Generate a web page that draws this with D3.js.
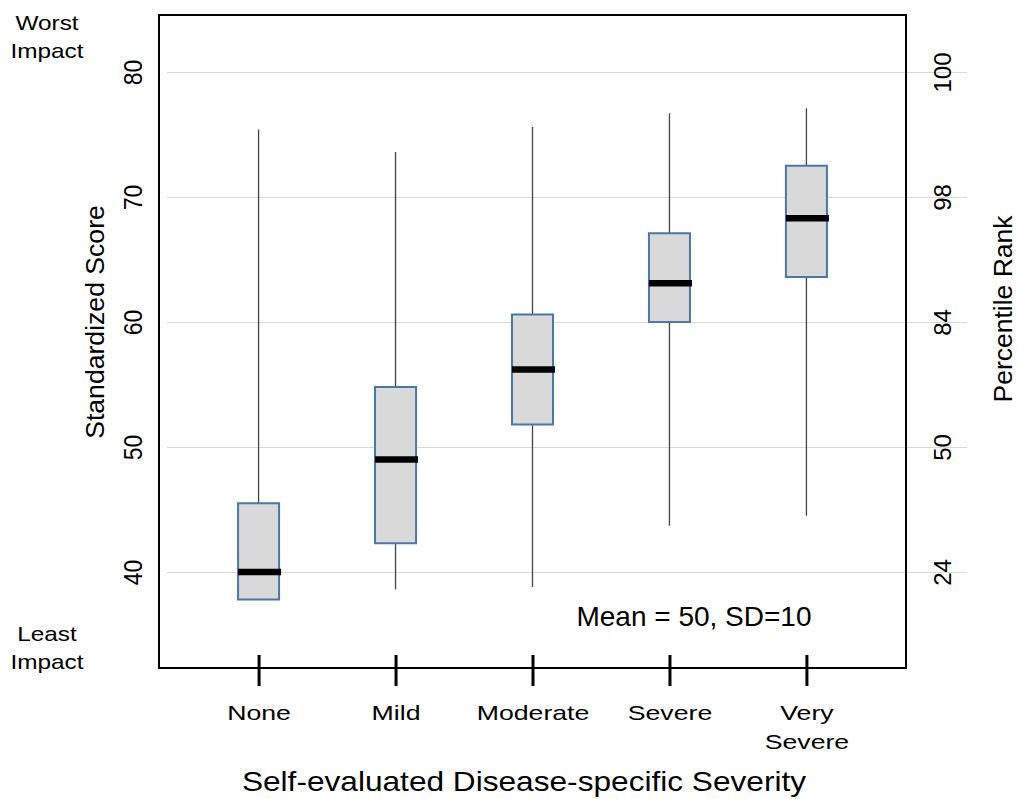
<!DOCTYPE html>
<html>
<head>
<meta charset="utf-8">
<script src="https://cdn.jsdelivr.net/npm/d3@7"></script>
<style>
  body { margin: 0; background: #fff; }
  svg { display: block; font-family: "Liberation Sans", Arial, sans-serif; }
</style>
</head>
<body>
<svg id="chart" width="1019" height="799"></svg>
<script>
// ---- data ----
const categories = ["None", "Mild", "Moderate", "Severe", "Very Severe"];
const categoryLabels = [["None"], ["Mild"], ["Moderate"], ["Severe"], ["Very", "Severe"]];
const whiskerHigh = [75.4, 73.6, 75.6, 76.7, 77.1];
const q3 = [45.5, 54.8, 60.6, 67.1, 72.5];
const median = [40.0, 49.0, 56.2, 63.1, 68.3];
const q1 = [37.8, 42.3, 51.8, 60.0, 63.6];
const whiskerLow = [37.8, 38.6, 38.8, 43.7, 44.5];
const scoreTicks = [40, 50, 60, 70, 80];
const percentileLabels = ["24", "50", "84", "98", "100"];

(function () {
// ---- layout ----
const svg = d3.select("#chart");
const pLeft = 159, pRight = 906, pTop = 15, pBottom = 668;
const FF = "Liberation Sans, Arial, sans-serif";

const y = d3.scaleLinear().domain([40, 80]).range([572, 72]);
const x = d3.scalePoint().domain(categories).range([pLeft, pRight]).padding(0.727);

// gridlines (extend beyond right frame)
const grid = svg.append("g").attr("transform", `translate(967,0)`)
  .call(d3.axisRight(y).tickValues(scoreTicks).tickSize(-(967 - 167)).tickFormat(""));
grid.select(".domain").remove();
grid.selectAll(".tick line").attr("stroke", "#d9d9d9").attr("stroke-width", 1);

// boxes
const boxW = 41;
const data = categories.map((c, i) => ({
  c, hi: whiskerHigh[i], q3: q3[i], med: median[i], q1: q1[i], lo: whiskerLow[i]
}));
const g = svg.append("g");
g.selectAll(".whisker").data(data).enter().append("line")
  .attr("x1", d => x(d.c)).attr("x2", d => x(d.c))
  .attr("y1", d => y(d.hi)).attr("y2", d => y(d.lo))
  .attr("stroke", "#444").attr("stroke-width", 1.3);
g.selectAll(".box").data(data).enter().append("rect")
  .attr("x", d => x(d.c) - boxW / 2).attr("width", boxW)
  .attr("y", d => y(d.q3)).attr("height", d => y(d.q1) - y(d.q3))
  .attr("fill", "#d9d9d9").attr("stroke", "#4a77a7").attr("stroke-width", 2);
g.selectAll(".med").data(data).enter().append("line")
  .attr("x1", d => x(d.c) - boxW / 2).attr("x2", d => x(d.c) + boxW / 2 + 2)
  .attr("y1", d => y(d.med)).attr("y2", d => y(d.med))
  .attr("stroke", "#000").attr("stroke-width", 6.5);

// frame
svg.append("rect").attr("x", pLeft).attr("y", pTop)
  .attr("width", pRight - pLeft).attr("height", pBottom - pTop)
  .attr("fill", "none").attr("stroke", "#000").attr("stroke-width", 2);

// left axis labels
const la = svg.append("g").attr("transform", `translate(${pLeft},0)`)
  .call(d3.axisLeft(y).tickValues(scoreTicks).tickSize(0));
la.select(".domain").remove();
la.selectAll(".tick text")
  .attr("x", null).attr("dy", null).attr("text-anchor", "middle")
  .attr("transform", "translate(-17,0) scale(1.15,1) rotate(-90)")
  .attr("font-size", 23).attr("fill", "#000")
  .style("font-family", FF);

// right axis labels
const ra = svg.append("g").attr("transform", `translate(${pRight},0)`)
  .call(d3.axisRight(y).tickValues(scoreTicks).tickSize(0)
    .tickFormat((d, i) => percentileLabels[i]));
ra.select(".domain").remove();
ra.selectAll(".tick text")
  .attr("x", null).attr("dy", null).attr("text-anchor", "middle")
  .attr("transform", "translate(45,0) rotate(-90)")
  .attr("font-size", 24).attr("fill", "#000")
  .style("font-family", FF);

// bottom axis
const ba = svg.append("g").attr("transform", `translate(0,${pBottom})`)
  .call(d3.axisBottom(x).tickSize(18).tickFormat(""));
ba.select(".domain").remove();
ba.selectAll(".tick line").attr("y1", -13).attr("y2", 18)
  .attr("stroke", "#000").attr("stroke-width", 3);
ba.selectAll(".tick text").remove();
ba.selectAll(".tick").each(function(d, i) {
  const t = d3.select(this).append("text")
    .attr("text-anchor", "middle").attr("font-size", 21).attr("fill", "#000")
    .attr("transform", "scale(1.27,1)")
    .style("font-family", FF);
  categoryLabels[i].forEach((s, j) => {
    t.append("tspan").attr("x", 0).attr("y", 52 + j * 29).text(s);
  });
});

// titles
svg.append("text").attr("transform", "translate(104,322) rotate(-90)")
  .attr("text-anchor", "middle").attr("font-size", 26.6).text("Standardized Score");
svg.append("text").attr("transform", "translate(1012,309) rotate(-90)")
  .attr("text-anchor", "middle").attr("font-size", 26.5).text("Percentile Rank");
svg.append("text").attr("transform", "translate(524,791) scale(1.13,1)")
  .attr("text-anchor", "middle").attr("font-size", 28)
  .text("Self-evaluated Disease-specific Severity");

svg.append("text").attr("x", 694).attr("y", 626)
  .attr("text-anchor", "middle").attr("font-size", 28).text("Mean = 50, SD=10");

const corner = [["Worst", "Impact", 30], ["Least", "Impact", 641]];
corner.forEach(([a, b, yy]) => {
  const t = svg.append("text").attr("text-anchor", "middle").attr("font-size", 21)
    .attr("transform", "translate(47,0) scale(1.16,1)");
  t.append("tspan").attr("x", 0).attr("y", yy).text(a);
  t.append("tspan").attr("x", 0).attr("y", yy + 28).text(b);
});
})();
</script>
</body>
</html>
